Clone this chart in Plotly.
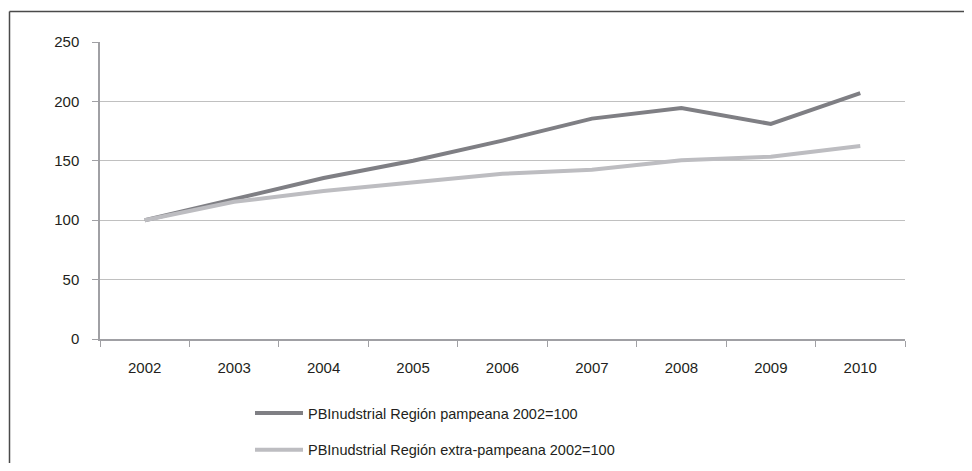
import plotly.graph_objects as go

years = ["2002", "2003", "2004", "2005", "2006", "2007", "2008", "2009", "2010"]
pampeana = [100, 118, 135.5, 150, 167, 185.5, 194.5, 181, 207]
extra_pampeana = [100, 115.5, 124.5, 131.5, 139, 142.5, 150.5, 153.5, 162.5]
name_pampeana = "PBInudstrial Región pampeana 2002=100"
name_extra = "PBInudstrial Región extra-pampeana 2002=100"
y_ticks = [0, 50, 100, 150, 200, 250]

FONT = "Liberation Sans, Arial, sans-serif"

fig = go.Figure()
fig.add_trace(go.Scatter(x=years, y=pampeana, name=name_pampeana, mode="lines",
                         line=dict(color="#7f7f84", width=4), legendgroup="a"))
fig.add_trace(go.Scatter(x=years, y=extra_pampeana, name=name_extra, mode="lines",
                         line=dict(color="#bdbdc1", width=4), legendgroup="b"))

# page body has an 8px margin, so the figure is 16px smaller than the window
W, H = 956, 455
L, R, T, B = 92, 59, 34, 124
pw, ph = W - L - R, H - T - B

def px_x(p):
    return (p - L) / pw

def px_y(p):
    return (H - B - p) / ph

fig.update_layout(
    width=W, height=H,
    margin=dict(l=L, r=R, t=T, b=B, pad=0, autoexpand=False),
    paper_bgcolor="white", plot_bgcolor="white",
    font=dict(family=FONT, size=15, color="#231f20"),
    xaxis=dict(type="category", tickson="boundaries", ticks="outside", ticklen=6,
               tickcolor="#a0a0a4", showline=True, linecolor="#a0a0a4", linewidth=1.5,
               showgrid=False, ticklabelstandoff=14, range=[-0.5, 8.5]),
    yaxis=dict(range=[0, 250], tickvals=y_ticks, ticks="outside", ticklen=6,
               tickcolor="#a0a0a4", showline=True, linecolor="#a0a0a4", linewidth=1.5,
               showgrid=True, gridcolor="#c0c0c0", gridwidth=1.2, zeroline=False,
               ticklabelstandoff=10),
    showlegend=True,
    legend=dict(orientation="v", x=px_x(242), xanchor="left", y=px_y(389), yanchor="top",
                itemwidth=48, tracegroupgap=15, font=dict(size=14.5),
                bgcolor="rgba(0,0,0,0)"),
    shapes=[
        dict(type="line", xref="paper", yref="paper", x0=px_x(1.5), x1=px_x(1.5),
             y0=px_y(3.5), y1=px_y(480), line=dict(color="#4a4a4a", width=1.5)),
        dict(type="line", xref="paper", yref="paper", x0=px_x(1.5), x1=px_x(980),
             y0=px_y(3.5), y1=px_y(3.5), line=dict(color="#4a4a4a", width=1.5)),
    ],
)

fig.write_html("out.html")
